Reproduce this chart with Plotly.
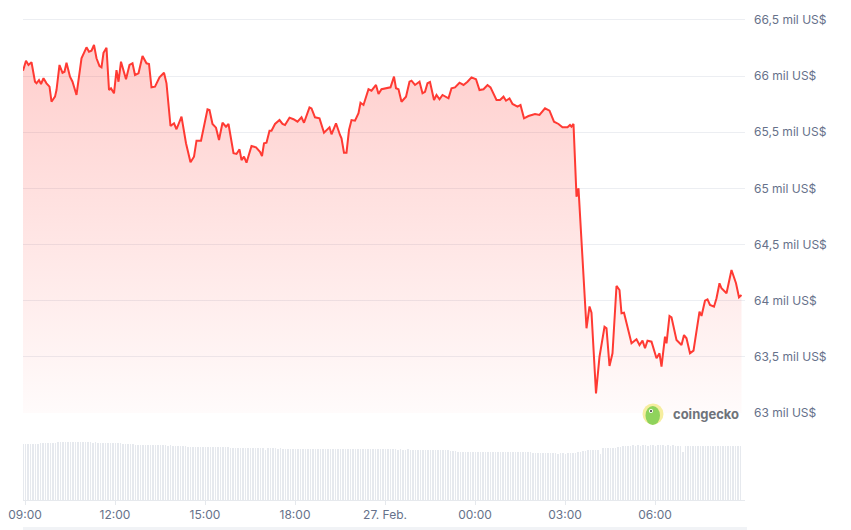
import pandas as pd
import plotly.graph_objects as go

# ---------------- data ----------------
# price samples: minutes after 09:00 (26 Feb) and price in US$
price_minutes = [
    -4, 2, 7, 13, 20, 23, 28, 32, 37, 43, 49, 53, 60, 63, 69, 75, 79, 83, 90, 95,
    103, 109, 113, 123, 128, 133, 138, 143, 149, 153, 157, 163, 168, 172, 178, 183, 187, 192, 202, 209,
    215, 220, 227, 235, 243, 248, 253, 260, 269, 278, 283, 291, 298, 303, 313, 322, 331, 338, 343, 352,
    365, 369, 375, 382, 388, 395, 402, 407, 417, 423, 429, 433, 438, 443, 453, 462, 470, 474, 478, 483,
    489, 493, 500, 509, 515, 520, 529, 537, 545, 553, 558, 569, 573, 580, 589, 598, 609, 613, 622, 630,
    633, 638, 643, 648, 653, 660, 667, 671, 677, 687, 693, 702, 707, 713, 722, 731, 738, 742, 747, 753,
    762, 769, 773, 780, 789, 795, 800, 805, 810, 818, 823, 829, 835, 847, 853, 860, 869, 877, 885, 893,
    902, 909, 917, 925, 931, 943, 950, 957, 962, 969, 975, 985, 991, 998, 1007, 1020, 1029, 1040, 1049, 1058,
    1067, 1075, 1085, 1090, 1093, 1097, 1103, 1107, 1123, 1129, 1133, 1142, 1149, 1159, 1163, 1169, 1175, 1183, 1189, 1193,
    1198, 1213, 1223, 1229, 1235, 1240, 1245, 1253, 1263, 1269, 1273, 1280, 1283, 1289, 1293, 1303, 1313, 1318, 1323, 1330,
    1337, 1349, 1353, 1360, 1365, 1370, 1378, 1383, 1389, 1393, 1403, 1413, 1422, 1428, 1433,
]
price_usd = [
    66047, 66136, 66098, 66122, 65949, 65935, 65964, 65929, 65980, 65935, 65905, 65771, 65816, 65875, 66098, 66029, 66038, 66118, 65994, 65949,
    65831, 66038, 66158, 66255, 66216, 66225, 66276, 66158, 66089, 66077, 66207, 66252, 65875, 65890, 65846, 66053, 65949, 66127, 65971, 66098,
    66113, 66009, 66024, 66178, 66113, 66107, 65899, 65905, 65988, 66029, 65935, 65555, 65579, 65526, 65638, 65401, 65232, 65282, 65424, 65424,
    65704, 65697, 65573, 65540, 65430, 65584, 65549, 65573, 65312, 65306, 65347, 65252, 65282, 65228, 65377, 65365, 65326, 65288, 65401, 65406,
    65513, 65513, 65573, 65608, 65573, 65564, 65629, 65615, 65593, 65632, 65584, 65721, 65712, 65632, 65623, 65495, 65543, 65481, 65579, 65475,
    65445, 65317, 65317, 65519, 65608, 65602, 65668, 65762, 65742, 65882, 65869, 65920, 65840, 65882, 65891, 65899, 65994, 65891, 65882, 65771,
    65816, 65949, 65958, 65920, 65949, 65846, 65860, 65935, 65947, 65786, 65831, 65793, 65831, 65801, 65891, 65899, 65940, 65920, 65949, 65988,
    65971, 65875, 65882, 65920, 65899, 65786, 65786, 65816, 65780, 65801, 65751, 65727, 65742, 65623, 65644, 65662, 65653, 65712, 65691, 65593,
    65573, 65543, 65543, 65564, 65549, 65573, 64926, 65000, 63754, 63948, 63893, 63175, 63501, 63768, 63754, 63418, 63531, 64131, 64095, 63888,
    63893, 63620, 63656, 63605, 63644, 63576, 63644, 63635, 63487, 63531, 63412, 63679, 63620, 63864, 63852, 63650, 63605, 63694, 63665, 63531,
    63555, 63902, 63864, 64000, 64012, 63962, 63946, 64021, 64155, 64110, 64066, 64273, 64155, 64030, 64050,
]

# volume (arbitrary units, bn US$), one value per 5 minutes starting 08:56
volume_bn = [
    38.3, 38.4, 38.5, 38.6, 38.7, 38.8, 38.9, 39.0, 39.1, 39.2, 39.3, 39.3,
    39.5, 39.6, 39.7, 39.8, 39.9, 40.0, 40.0, 39.9, 40.0, 39.9, 39.9, 39.8,
    39.8, 39.8, 39.7, 39.7, 39.6, 39.7, 39.6, 39.5, 39.6, 39.5, 39.5, 39.4,
    39.4, 39.3, 39.2, 39.0, 38.9, 38.7, 38.6, 38.4, 38.3, 38.2, 38.1, 38.0,
    37.9, 37.9, 37.8, 37.8, 37.7, 37.8, 37.7, 37.6, 37.7, 37.6, 37.5, 37.6,
    37.5, 37.4, 37.3, 37.2, 37.1, 37.0, 36.9, 36.8, 36.7, 36.6, 36.6, 36.5,
    36.5, 36.5, 36.4, 36.5, 36.4, 36.4, 36.5, 36.4, 36.3, 36.4, 36.3, 36.2,
    36.2, 36.1, 36.2, 36.0, 36.1, 35.9, 36.0, 35.9, 35.8, 35.9, 35.8, 35.7,
    35.7, 34.2, 35.7, 35.6, 35.7, 35.6, 35.5, 35.6, 35.5, 35.4, 35.5, 35.4,
    35.3, 35.4, 35.3, 35.2, 35.3, 35.2, 35.3, 35.2, 35.2, 35.3, 35.2, 35.2,
    35.2, 35.1, 35.2, 35.2, 35.1, 35.2, 35.1, 35.2, 35.1, 35.2, 35.1, 35.1,
    35.1, 35.0, 35.1, 35.1, 35.0, 35.1, 35.0, 35.1, 35.0, 35.0, 35.1, 35.0,
    35.0, 34.9, 35.0, 34.9, 34.9, 35.0, 34.8, 34.9, 34.8, 34.8, 34.9, 34.7,
    34.7, 34.8, 34.6, 34.7, 34.6, 34.7, 34.6, 34.5, 34.6, 34.5, 34.6, 34.5,
    34.5, 34.4, 34.3, 34.1, 33.8, 33.5, 33.4, 33.3, 33.2, 33.3, 33.2, 33.1,
    33.1, 33.2, 33.1, 33.0, 33.1, 33.2, 33.1, 33.0, 33.1, 33.1, 33.0, 33.1,
    33.1, 33.0, 33.1, 33.2, 33.1, 33.0, 33.1, 33.0, 33.1, 33.0, 32.9, 32.8,
    32.6, 32.4, 32.3, 32.2, 32.3, 32.1, 32.2, 32.1, 32.2, 32.1, 32.0, 32.1,
    32.1, 32.0, 32.1, 32.2, 32.4, 32.7, 33.1, 33.2, 33.6, 34.0, 34.5, 34.4,
    34.5, 34.6, 34.5, 31.7, 35.9, 35.8, 35.9, 36.0, 35.9, 36.0, 36.3, 36.7,
    37.2, 37.4, 37.5, 37.4, 37.6, 37.5, 37.6, 37.5, 37.6, 37.6, 37.5, 37.6,
    37.6, 37.5, 37.6, 37.7, 37.6, 37.5, 37.6, 37.5, 37.6, 37.5, 37.4, 37.5,
    33.0, 37.2, 37.1, 37.2, 37.0, 37.1, 37.2, 37.1, 37.0, 37.1, 37.2, 37.1,
    37.1, 37.0, 37.1, 37.2, 37.1, 37.0, 37.1, 37.2, 37.1, 37.0, 37.1, 37.1,
]

y_tick_values = [63000, 63500, 64000, 64500, 65000, 65500, 66000, 66500]
y_tick_labels = ["63 mil US$", "63,5 mil US$", "64 mil US$", "64,5 mil US$",
                 "65 mil US$", "65,5 mil US$", "66 mil US$", "66,5 mil US$"]
x_tick_hours = [0, 3, 6, 9, 12, 15, 18, 21]
x_tick_labels = ["09:00", "12:00", "15:00", "18:00", "27. Feb.", "00:00", "03:00", "06:00"]

# ---------------- build ----------------
base = pd.Timestamp("2024-02-26 09:00")
price_t = [base + pd.Timedelta(minutes=m) for m in price_minutes]
vol_t = [base + pd.Timedelta(minutes=-4 + 5 * i) for i in range(len(volume_bn))]
tickvals = [base + pd.Timedelta(hours=h) for h in x_tick_hours]

RED = "rgb(255,58,51)"
FONT = "Inter, 'Open Sans', sans-serif"
LABEL = "#66718a"

# the page body adds an 8px offset; layout below is in page pixels
OFF = 8
W, H = 851 - OFF, 530 - OFF
PL, PR = 23, 745          # plot left / right (page px)
PT, PB = OFF, 500         # plot top / bottom (page px)
PH = PB - PT
PW = PR - PL


def px_x(px):
    return (px - PL) / PW


def px_y(py):
    return (PB - py) / PH


fig = go.Figure()

fig.add_trace(go.Bar(
    x=vol_t, y=volume_bn, yaxis="y2",
    marker=dict(color="#e6e9ee", line=dict(width=0)),
    width=120000, hoverinfo="skip", showlegend=False,
))

fig.add_trace(go.Scatter(
    x=price_t, y=price_usd, mode="lines",
    line=dict(color=RED, width=2),
    fill="tozeroy",
    fillgradient=dict(
        type="vertical", start=63000, stop=66300,
        colorscale=[[0, "rgba(255,58,51,0.02)"], [1, "rgba(255,58,51,0.25)"]],
    ),
    showlegend=False,
))

fig.update_layout(
    width=W, height=H,
    margin=dict(l=PL - OFF, r=W - (PR - OFF), t=0, b=H - (PB - OFF)),
    paper_bgcolor="white", plot_bgcolor="white",
    font=dict(family=FONT, size=12, color=LABEL),
    bargap=0,
    xaxis=dict(
        type="date",
        range=[base - pd.Timedelta(minutes=4), base + pd.Timedelta(minutes=1440)],
        tickvals=tickvals, ticktext=x_tick_labels,
        showgrid=False, zeroline=False,
        showline=True, linecolor="#e6e9ed", linewidth=1,
        ticks="outside", ticklen=4, tickcolor="#e6e9ed",
        anchor="y2",
        tickfont=dict(size=12, color=LABEL),
    ),
    yaxis=dict(
        domain=[px_y(413), 1],
        range=[63000, 66000 + (76 - PT) * 1000 / 112.33],
        side="right",
        tickvals=y_tick_values, ticktext=y_tick_labels,
        showgrid=True, gridcolor="#eceef2", gridwidth=1,
        zeroline=False, showline=False, ticks="",
        ticklabelstandoff=8,
        tickfont=dict(size=12, color=LABEL),
    ),
    yaxis2=dict(
        domain=[0, px_y(441)],
        range=[0, 40.7],
        showticklabels=False, showgrid=False, zeroline=False, showline=False,
    ),
    shapes=[
        # navigator strip at the bottom
        dict(type="rect", xref="paper", yref="paper",
             x0=0, x1=px_x(747), y0=px_y(527), y1=px_y(531),
             fillcolor="#f1f3f6", line=dict(width=0), layer="below"),
        # coingecko logo
        dict(type="circle", xref="paper", yref="paper",
             x0=px_x(642.5), x1=px_x(663.5), y0=px_y(424.5), y1=px_y(403.5),
             fillcolor="#f6ee9f", line=dict(width=0)),
        dict(type="circle", xref="paper", yref="paper",
             x0=px_x(645.5), x1=px_x(660), y0=px_y(425), y1=px_y(406),
             fillcolor="#8fd35c", line=dict(width=0)),
        dict(type="circle", xref="paper", yref="paper",
             x0=px_x(649), x1=px_x(653), y0=px_y(413), y1=px_y(409),
             fillcolor="white", line=dict(width=0)),
        dict(type="circle", xref="paper", yref="paper",
             x0=px_x(650), x1=px_x(652), y0=px_y(412), y1=px_y(410),
             fillcolor="#333", line=dict(width=0)),
    ],
    annotations=[
        dict(text="<b>coingecko</b>", xref="paper", yref="paper",
             x=px_x(671), y=px_y(414),
             xanchor="left", yanchor="middle", showarrow=False,
             font=dict(family=FONT, size=13, color="#6f737a")),
    ],
)

fig.write_html("out.html")
